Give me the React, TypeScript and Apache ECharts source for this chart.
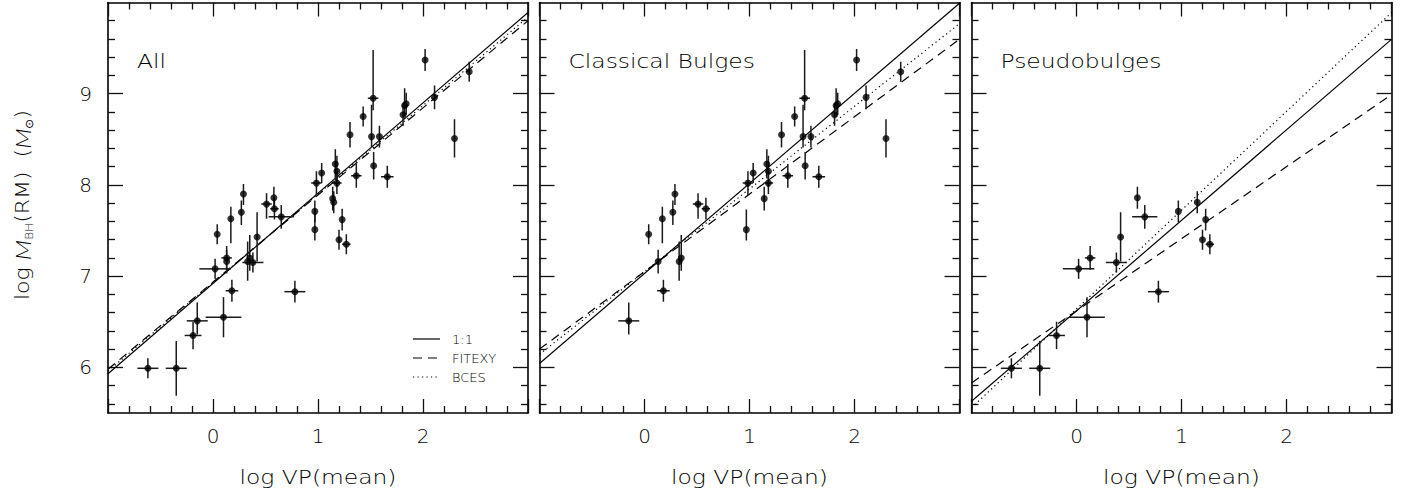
import React, { useEffect, useRef } from "react";
import * as echarts from "echarts";

// [logVP, logMBH, xErrMinus, xErrPlus, yErrMinus, yErrPlus]
const classicalPoints: number[][] = [
  [0.04, 7.46, 0, 0, 0.11, 0.11],
  [0.17, 7.63, 0, 0, 0.27, 0.13],
  [0.27, 7.70, 0, 0, 0.14, 0.13],
  [0.29, 7.90, 0, 0, 0.12, 0.11],
  [0.51, 7.79, 0.05, 0.05, 0.16, 0.12],
  [0.585, 7.74, 0.04, 0.04, 0.12, 0.12],
  [0.97, 7.51, 0, 0, 0.12, 0.22],
  [0.985, 8.02, 0.05, 0.05, 0.13, 0.13],
  [1.035, 8.13, 0, 0, 0.11, 0.11],
  [1.14, 7.85, 0, 0, 0.13, 0.13],
  [1.165, 8.23, 0, 0, 0.16, 0.16],
  [1.18, 8.15, 0, 0, 0.17, 0.17],
  [1.18, 8.02, 0.045, 0.045, 0.12, 0.12],
  [1.305, 8.55, 0, 0, 0.14, 0.14],
  [1.365, 8.10, 0.05, 0.05, 0.13, 0.13],
  [1.43, 8.75, 0, 0, 0.11, 0.11],
  [1.51, 8.53, 0, 0, 0.12, 0.35],
  [1.525, 8.95, 0.05, 0.05, 0.13, 0.53],
  [1.53, 8.21, 0, 0, 0.15, 0.15],
  [1.585, 8.53, 0, 0, 0.12, 0.12],
  [1.66, 8.09, 0.06, 0.06, 0.12, 0.12],
  [1.81, 8.77, 0, 0, 0.12, 0.12],
  [1.825, 8.87, 0, 0, 0.12, 0.19],
  [1.84, 8.89, 0, 0, 0.12, 0.12],
  [2.02, 9.37, 0, 0, 0.12, 0.12],
  [2.11, 8.96, 0, 0, 0.13, 0.13],
  [2.30, 8.51, 0, 0, 0.21, 0.21],
  [2.44, 9.24, 0, 0, 0.11, 0.11],
  [0.13, 7.16, 0, 0, 0.13, 0.13],
  [0.18, 6.84, 0.06, 0.06, 0.12, 0.12],
  [0.33, 7.16, 0, 0, 0.21, 0.22],
  [0.35, 7.20, 0, 0, 0.14, 0.25],
  [-0.15, 6.51, 0.1, 0.1, 0.15, 0.2],
];

const pseudoPoints: number[][] = [
  [0.58, 7.86, 0, 0, 0.12, 0.12],
  [0.65, 7.65, 0.12, 0.12, 0.13, 0.13],
  [0.42, 7.43, 0, 0, 0.27, 0.27],
  [0.97, 7.71, 0, 0, 0.12, 0.12],
  [1.15, 7.81, 0, 0, 0.12, 0.12],
  [1.23, 7.62, 0, 0, 0.12, 0.12],
  [1.20, 7.40, 0, 0, 0.11, 0.11],
  [1.27, 7.35, 0.04, 0.04, 0.11, 0.11],
  [0.02, 7.08, 0.15, 0.15, 0.11, 0.11],
  [0.13, 7.20, 0.05, 0.05, 0.13, 0.13],
  [0.38, 7.15, 0.1, 0.1, 0.11, 0.11],
  [0.78, 6.83, 0.1, 0.1, 0.12, 0.12],
  [0.10, 6.55, 0.17, 0.17, 0.22, 0.22],
  [-0.19, 6.35, 0.08, 0.08, 0.15, 0.15],
  [-0.35, 5.99, 0.1, 0.1, 0.3, 0.3],
  [-0.62, 5.99, 0.1, 0.1, 0.11, 0.11],
];

// fit lines: [intercept at x=0, slope]
const fitAll = { oneToOne: [6.92, 0.99], fitexy: [6.935, 0.955], bces: [6.93, 0.97] };
const fitClassical = { oneToOne: [7.03, 0.987], fitexy: [7.05, 0.849], bces: [7.05, 0.906] };
const fitPseudo = { oneToOne: [6.62, 0.992], fitexy: [6.62, 0.79], bces: [6.64, 1.083] };

const panelLabels = ["All", "Classical Bulges", "Pseudobulges"];
const legendLabels = ["1:1", "FITEXY", "BCES"];
const xTickLabels = [0, 1, 2];
const yMajorTicks = [6, 7, 8, 9];
const yMinorTicks = [5.6, 5.8, 6.2, 6.4, 6.6, 6.8, 7.2, 7.4, 7.6, 7.8, 8.2, 8.4, 8.6, 8.8, 9.2, 9.4, 9.6, 9.8];

const X_MIN = -1;
const X_MAX = 3;
const Y_MIN = 5.5;
const Y_MAX = 10;

const FONT = "'DejaVu Sans', sans-serif";
const ITALIC_FONT = "Lato, 'DejaVu Sans', sans-serif";
const panelLefts = [108, 539.5, 971.5];
const PANEL_W = 420;
const PANEL_TOP = 2.5;
const PANEL_H = 410.5;

export default function App() {
  const ref = useRef<HTMLDivElement>(null);

  useEffect(() => {
    if (!ref.current) return;
    const chart = echarts.init(ref.current, null, { renderer: "svg" });

    const panels = [
      { pts: [...classicalPoints, ...pseudoPoints], fit: fitAll },
      { pts: classicalPoints, fit: fitClassical },
      { pts: pseudoPoints, fit: fitPseudo },
    ];

    const grids: any[] = [];
    const xAxes: any[] = [];
    const yAxes: any[] = [];
    const series: any[] = [];
    const graphics: any[] = [];

    const tickLine = { color: "#111", width: 1.3 };
    const borderLine = { show: true, onZero: false, lineStyle: { color: "#000", width: 1.6 } };
    const hiddenLine = { show: false, onZero: false };

    panels.forEach((p, i) => {
      grids.push({ left: panelLefts[i], top: PANEL_TOP, width: PANEL_W, height: PANEL_H });

      const xBase = {
        type: "value",
        gridIndex: i,
        min: X_MIN,
        max: X_MAX,
        interval: 1,
        splitLine: { show: false },
        minorSplitLine: { show: false },
        axisLine: borderLine,
        axisTick: { show: true, inside: true, length: 14, lineStyle: tickLine },
        minorTick: { show: true, splitNumber: 5, length: 7, lineStyle: tickLine },
      };
      const bottomIdx = xAxes.length;
      xAxes.push({
        ...xBase,
        position: "bottom",
        axisLabel: {
          show: true,
          margin: 13,
          fontSize: 20,
          fontFamily: FONT,
          fontWeight: 200,
          color: "#000",
          customValues: xTickLabels,
          formatter: (v: number) => String(v),
        },
      });
      xAxes.push({ ...xBase, position: "top", axisLabel: { show: false } });

      const yBase = {
        type: "value",
        gridIndex: i,
        min: Y_MIN,
        max: Y_MAX,
        offset: 0,
        splitLine: { show: false },
        minorSplitLine: { show: false },
      };
      const leftIdx = yAxes.length;
      yAxes.push({
        ...yBase,
        position: "left",
        axisLine: borderLine,
        axisTick: { show: true, inside: true, length: 15, lineStyle: tickLine, customValues: yMajorTicks },
        axisLabel: {
          show: i === 0,
          margin: 16,
          fontSize: 20,
          fontFamily: FONT,
          fontWeight: 200,
          color: "#000",
          customValues: yMajorTicks,
          formatter: (v: number) => String(v),
        },
      });
      yAxes.push({
        ...yBase,
        position: "left",
        axisLine: hiddenLine,
        axisTick: { show: true, inside: true, length: 7, lineStyle: tickLine, customValues: yMinorTicks },
        axisLabel: { show: false },
      });
      yAxes.push({
        ...yBase,
        position: "right",
        axisLine: borderLine,
        axisTick: { show: true, inside: true, length: 15, lineStyle: tickLine, customValues: yMajorTicks },
        axisLabel: { show: false },
      });
      yAxes.push({
        ...yBase,
        position: "right",
        axisLine: hiddenLine,
        axisTick: { show: true, inside: true, length: 7, lineStyle: tickLine, customValues: yMinorTicks },
        axisLabel: { show: false },
      });

      const lineDefs: [number[], any][] = [
        [p.fit.oneToOne, "solid"],
        [p.fit.fitexy, [9, 6]],
        [p.fit.bces, [1.2, 3.3]],
      ];
      lineDefs.forEach(([ab, type]) => {
        series.push({
          type: "line",
          xAxisIndex: bottomIdx,
          yAxisIndex: leftIdx,
          showSymbol: false,
          silent: true,
          data: [
            [X_MIN, ab[0] + ab[1] * X_MIN],
            [X_MAX, ab[0] + ab[1] * X_MAX],
          ],
          lineStyle: { color: "#000", width: 1.2, type },
          z: 2,
        });
      });

      series.push({
        type: "custom",
        xAxisIndex: bottomIdx,
        yAxisIndex: leftIdx,
        clip: true,
        silent: true,
        encode: { x: 0, y: 1 },
        data: p.pts,
        renderItem: (_params: any, api: any) => {
          const x = api.value(0);
          const y = api.value(1);
          const xm = api.value(2);
          const xp = api.value(3);
          const ym = api.value(4);
          const yp = api.value(5);
          const style = { stroke: "#1a1a1a", lineWidth: 1.5 };
          const children: any[] = [];
          if (ym > 0 || yp > 0) {
            const a = api.coord([x, y - ym]);
            const b = api.coord([x, y + yp]);
            children.push({ type: "line", shape: { x1: a[0], y1: a[1], x2: b[0], y2: b[1] }, style });
          }
          if (xm > 0 || xp > 0) {
            const a = api.coord([x - xm, y]);
            const b = api.coord([x + xp, y]);
            children.push({ type: "line", shape: { x1: a[0], y1: a[1], x2: b[0], y2: b[1] }, style });
          }
          return { type: "group", children };
        },
        z: 3,
      });

      series.push({
        type: "scatter",
        xAxisIndex: bottomIdx,
        yAxisIndex: leftIdx,
        symbol: "circle",
        symbolSize: 7,
        itemStyle: { color: "#000" },
        data: p.pts.map((d) => [d[0], d[1]]),
        silent: true,
        z: 4,
      });

      graphics.push({
        type: "text",
        x: panelLefts[i] + 29,
        y: 61,
        scaleX: 1.17,
        style: {
          text: panelLabels[i],
          fontSize: 20,
          fontFamily: FONT,
          fontWeight: 200,
          fill: "#000",
          textAlign: "left",
          textVerticalAlign: "middle",
        },
      });

      graphics.push({
        type: "text",
        x: panelLefts[i] + PANEL_W / 2,
        y: 477,
        scaleX: 1.17,
        style: {
          text: "log VP(mean)",
          fontSize: 20,
          fontFamily: FONT,
          fontWeight: 200,
          fill: "#000",
          textAlign: "center",
          textVerticalAlign: "middle",
        },
      });
    });

    // legend in first panel
    const legendDash: any[] = [null, [9, 6], [1.2, 3.3]];
    const legendY = [339, 358, 377];
    legendLabels.forEach((lab, k) => {
      graphics.push({
        type: "line",
        shape: { x1: 413, y1: legendY[k], x2: 440, y2: legendY[k] },
        style: { stroke: "#000", lineWidth: 1.2, lineDash: legendDash[k] },
      });
      graphics.push({
        type: "text",
        x: 452,
        y: legendY[k],
        style: {
          text: lab,
          fontSize: 13,
          fontFamily: FONT,
          fontWeight: 300,
          fill: "#000",
          textAlign: "left",
          textVerticalAlign: "middle",
        },
      });
    });

    // y axis title
    graphics.push({
      type: "text",
      x: 22,
      y: 205,
      rotation: Math.PI / 2,
      scaleX: 1.1,
      style: {
        text: "{n|log }{i|M}{s|BH}{n|(RM)  (}{i|M}{s|⊙}{n|)}",
        textAlign: "center",
        textVerticalAlign: "middle",
        fill: "#000",
        rich: {
          n: { fontSize: 20, fontFamily: FONT, fontWeight: 200, lineHeight: 26, fill: "#000" },
          i: { fontSize: 22, fontFamily: ITALIC_FONT, fontWeight: 300, fontStyle: "italic", lineHeight: 26, fill: "#000" },
          s: { fontSize: 11, fontFamily: FONT, fontWeight: 200, lineHeight: 26, verticalAlign: "bottom", fill: "#000" },
        },
      },
    });

    chart.setOption({
      animation: false,
      backgroundColor: "#fff",
      grid: grids,
      xAxis: xAxes,
      yAxis: yAxes,
      series,
      graphic: graphics,
    });

    return () => chart.dispose();
  }, []);

  return (
    <div
      ref={ref}
      style={{ position: "fixed", left: 0, top: 0, width: 1411, height: 492, background: "#fff" }}
    />
  );
}
